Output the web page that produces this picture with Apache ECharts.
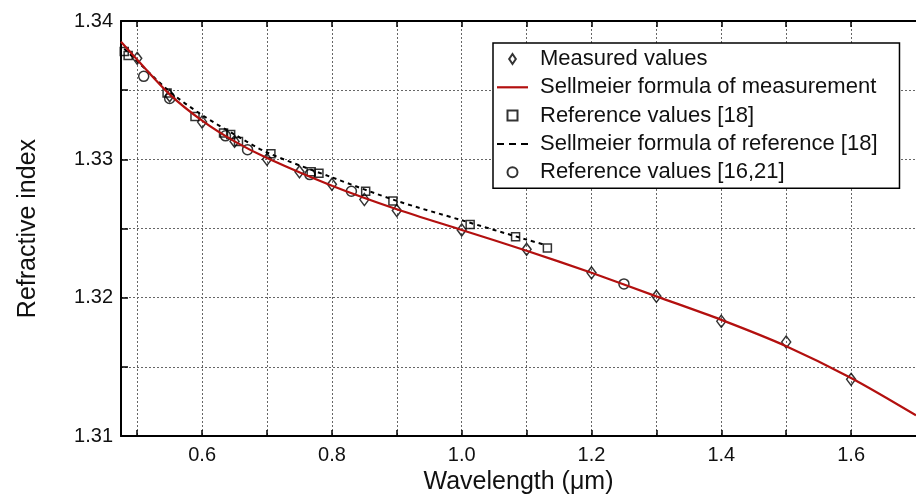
<!DOCTYPE html>
<html lang="en">
<head>
    <meta charset="UTF-8">
    <title>Refractive index of water</title>
    <script src="https://cdn.jsdelivr.net/npm/echarts@6/dist/echarts.min.js"></script>
    <style>
        html, body { margin: 0; padding: 0; background: #fff; }
        #chart { width: 916px; height: 500px; }
    </style>
</head>
<body>
    <div id="chart"></div>
</body>
<script>
    // values: [wavelength (um), refractive index]
    var measured = [
        [0.50, 1.3373], [0.55, 1.3346], [0.60, 1.3327], [0.65, 1.3313], [0.70, 1.3300],
        [0.75, 1.3291], [0.80, 1.3282], [0.85, 1.3271], [0.90, 1.3263], [1.00, 1.3249],
        [1.10, 1.3235], [1.20, 1.3218], [1.30, 1.3201], [1.40, 1.3183], [1.50, 1.3168],
        [1.60, 1.3141]
    ];
    var sellmeierMeas = [
        [0.475, 1.3385], [0.50, 1.3372], [0.55, 1.3347], [0.60, 1.3328], [0.65, 1.3313],
        [0.70, 1.3301], [0.80, 1.3281], [0.90, 1.3264], [1.00, 1.3249], [1.10, 1.3234],
        [1.20, 1.3218], [1.30, 1.3201], [1.40, 1.3184], [1.50, 1.3165], [1.60, 1.3142],
        [1.70, 1.3115]
    ];
    var ref18 = [
        [0.480, 1.3378], [0.486, 1.3375], [0.546, 1.3348], [0.589, 1.3331], [0.633, 1.3319],
        [0.644, 1.3318], [0.656, 1.3313], [0.706, 1.3304], [0.768, 1.3291], [0.780, 1.3290],
        [0.852, 1.3277], [0.894, 1.3270], [1.013, 1.3253], [1.083, 1.3244], [1.132, 1.3236]
    ];
    var sellmeierRef = [
        [0.48, 1.3380], [0.55, 1.3349], [0.60, 1.3332], [0.65, 1.3318], [0.70, 1.3305],
        [0.80, 1.3287], [0.90, 1.3270], [1.00, 1.3256], [1.10, 1.3242], [1.13, 1.3238]
    ];
    var ref1621 = [
        [0.510, 1.3360], [0.550, 1.3344], [0.636, 1.3317], [0.670, 1.3307], [0.766, 1.3289],
        [0.830, 1.3277], [1.250, 1.3210]
    ];

    var xTicks = [0.5, 0.6, 0.7, 0.8, 0.9, 1.0, 1.1, 1.2, 1.3, 1.4, 1.5, 1.6];
    var xLabels = [0.6, 0.8, 1.0, 1.2, 1.4, 1.6];
    var yTicks = [1.31, 1.315, 1.32, 1.325, 1.33, 1.335, 1.34];
    var yLabels = [1.31, 1.32, 1.33, 1.34];

    var names = [
        "Measured values",
        "Sellmeier formula of measurement",
        "Reference values [18]",
        "Sellmeier formula of reference [18]",
        "Reference values [16,21]"
    ];

    // legend icon shapes (keep aspect inside the item box)
    var iconDiamond = "path://M4,0L8,6L4,12L0,6Z";
    var iconSquare = "path://M0,0H8V8H0Z";
    var iconLine = "path://M0,0H31V2.2H0Z";
    var iconDash = "path://M0,0H7V2H0Z M12,0H19V2H12Z M24,0H31V2H24Z";

    var font = "Liberation Sans, Arial, sans-serif";
    var hollow = { color: "rgba(255,255,255,0)", borderColor: "#000", borderWidth: 1.5 };
    var axisLine = { lineStyle: { color: "#000", width: 2 } };
    var grid = { type: [2, 2], color: "#666", width: 1 };
    var tick = { color: "#000", width: 1.5 };

    var chart = echarts.init(document.getElementById("chart"));
    var option = {
        animation: false,
        textStyle: { fontFamily: font },
        grid: { left: 121, top: 21, width: 804, bottom: 58 },
        legend: {
            orient: "vertical",
            left: 493,
            top: 43,
            padding: [5, 22, 5, 4],
            itemWidth: 31,
            itemHeight: 10,
            itemGap: 6.3,
            symbolKeepAspect: true,
            backgroundColor: "#fff",
            borderColor: "#000",
            borderWidth: 1.5,
            borderRadius: 0,
            textStyle: { fontSize: 22, color: "#111", lineHeight: 22, padding: [0, 0, 0, 7] },
            data: [
                { name: names[0], icon: iconDiamond },
                { name: names[1], icon: iconLine, itemStyle: { color: "#b3100f", borderWidth: 0 } },
                { name: names[2], icon: iconSquare },
                { name: names[3], icon: iconDash, itemStyle: { color: "#000", borderWidth: 0 } },
                { name: names[4] }
            ]
        },
        xAxis: [{
            type: "value",
            min: 0.475,
            max: 1.7,
            name: "Wavelength (μm)",
            nameLocation: "middle",
            nameGap: 32,
            nameTextStyle: { fontSize: 25, color: "#111", verticalAlign: "top" },
            axisLine: axisLine,
            axisTick: { inside: true, length: 6, customValues: xTicks, lineStyle: tick },
            axisLabel: {
                customValues: xLabels, fontSize: 20, color: "#111", margin: 9,
                formatter: function (v) { return v.toFixed(1); }
            },
            splitLine: { show: true, lineStyle: grid }
        }, {
            type: "value",
            position: "top",
            min: 0.475,
            max: 1.7,
            axisLine: axisLine,
            axisTick: { inside: true, length: 6, customValues: xTicks, lineStyle: tick },
            axisLabel: { show: false },
            splitLine: { show: false }
        }],
        yAxis: {
            type: "value",
            min: 1.31,
            max: 1.34,
            name: "Refractive index",
            nameLocation: "middle",
            nameGap: 80,
            nameTextStyle: { fontSize: 25, color: "#111" },
            axisLine: axisLine,
            axisTick: { inside: true, length: 7, customValues: yTicks, lineStyle: tick },
            axisLabel: {
                customValues: yLabels, fontSize: 20, color: "#111", margin: 8,
                formatter: function (v) { return v.toFixed(2); }
            },
            splitLine: { show: true, lineStyle: grid }
        },
        series: [{
            name: names[0],
            type: "scatter",
            symbol: "diamond",
            symbolSize: [9, 12],
            itemStyle: hollow,
            z: 3,
            data: measured
        }, {
            name: names[1],
            type: "line",
            smooth: 0.3,
            symbol: "none",
            lineStyle: { color: "#b3100f", width: 2.2 },
            itemStyle: { color: "#b3100f" },
            z: 4,
            data: sellmeierMeas
        }, {
            name: names[2],
            type: "scatter",
            symbol: "rect",
            symbolSize: 8,
            itemStyle: hollow,
            z: 3,
            data: ref18
        }, {
            name: names[3],
            type: "line",
            smooth: 0.3,
            symbol: "none",
            lineStyle: { color: "#000", width: 2, type: [4, 4] },
            itemStyle: { color: "#000" },
            z: 2,
            data: sellmeierRef
        }, {
            name: names[4],
            type: "scatter",
            symbol: "circle",
            symbolSize: 10,
            itemStyle: hollow,
            z: 3,
            data: ref1621
        }]
    };
    chart.setOption(option);
</script>
</html>
